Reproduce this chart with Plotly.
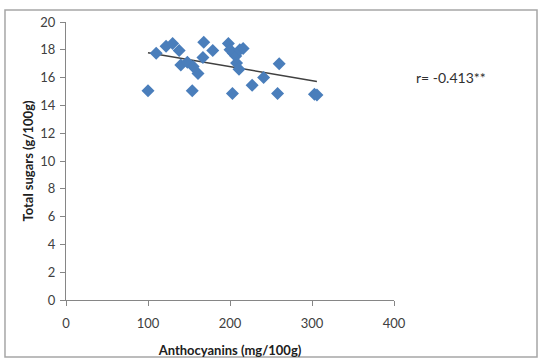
import numpy as np
import plotly.graph_objects as go

anthocyanins = [100, 110, 122, 130, 138, 140, 148, 155, 154, 161, 167, 168, 179,
                198, 200, 203, 204, 207, 208, 211, 212, 216, 227, 241, 258, 260, 303, 306]
total_sugars = [15.05, 17.75, 18.25, 18.45, 17.95, 16.9, 17.1, 16.8, 15.05, 16.3, 17.45, 18.55, 17.95,
                18.45, 18.0, 14.85, 17.75, 17.55, 17.05, 16.6, 18.0, 18.1, 15.45, 16.0, 14.85, 17.0, 14.8, 14.75]
x_ticks = [0, 100, 200, 300, 400]
y_ticks = [0, 2, 4, 6, 8, 10, 12, 14, 16, 18, 20]
r_label = "r= -0.413**"

slope, intercept = np.polyfit(anthocyanins, total_sugars, 1)
tx = [min(anthocyanins), max(anthocyanins)]
ty = [slope * v + intercept for v in tx]

fig = go.Figure()
fig.add_trace(go.Scatter(x=tx, y=ty, mode="lines",
                         line=dict(color="#404040", width=1.5), hoverinfo="skip"))
fig.add_trace(go.Scatter(x=anthocyanins, y=total_sugars, mode="markers",
                         marker=dict(symbol="diamond", size=10, color="#4a7ebb",
                                     line=dict(width=0))))

font = "Lato, 'Open Sans', sans-serif"
axis_common = dict(showgrid=False, zeroline=False, showline=True, linecolor="#868686",
                   linewidth=1, ticks="outside", ticklen=5, tickcolor="#868686",
                   automargin=False,
                   tickfont=dict(family=font, size=13, color="#404040"))
fig.update_xaxes(range=[0, 400], tickvals=x_ticks, ticklabelstandoff=6, **axis_common,
                 title=dict(text="<b>Anthocyanins (mg/100g)</b>",
                            font=dict(family=font, size=13, color="#202020"), standoff=16))
fig.update_yaxes(range=[0, 20], tickvals=y_ticks, ticklabelstandoff=2, **axis_common,
                 title=dict(text="<b>Total sugars (g/100g)</b>",
                            font=dict(family=font, size=13, color="#202020"), standoff=3))

fig.add_annotation(x=1.06, xref="paper", y=16, yref="y", text=r_label, showarrow=False,
                   xanchor="left", font=dict(family=font, size=14, color="#303030"))

fig.add_shape(type="rect", xref="paper", yref="paper", x0=-0.186, x1=1.436, y0=-0.205, y1=1.043,
              line=dict(color="#a6a6a6", width=1.5), layer="below")

fig.update_layout(width=544, height=364, showlegend=False,
                  margin=dict(l=66, r=150, t=22, b=64),
                  plot_bgcolor="white", paper_bgcolor="white")
fig.write_html("out.html", config={"displayModeBar": False},
               post_script="document.body.style.margin='0';document.body.style.overflow='hidden';")
